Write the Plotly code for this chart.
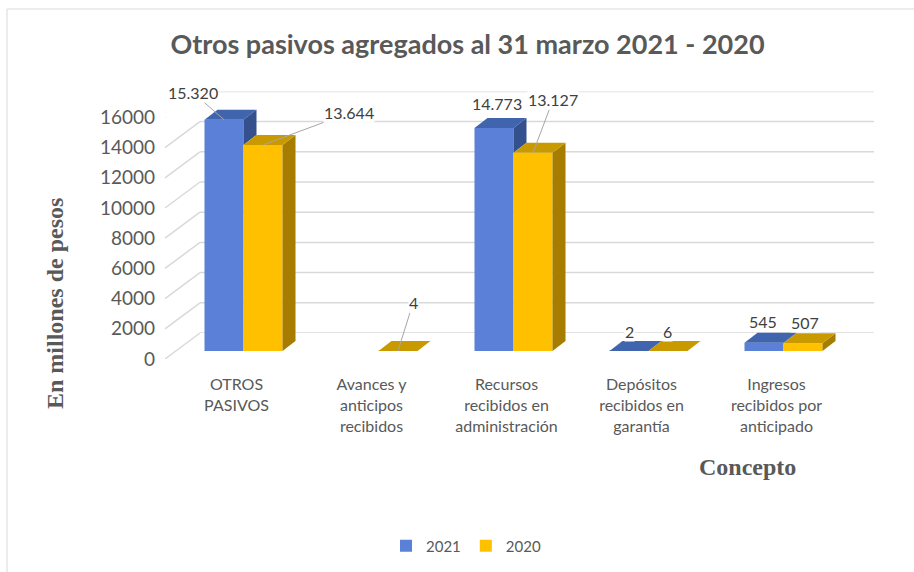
import plotly.graph_objects as go

# ---------------- data ----------------
categories = ["OTROS<br>PASIVOS",
              "Avances y<br>anticipos<br>recibidos",
              "Recursos<br>recibidos en<br>administración",
              "Depósitos<br>recibidos en<br>garantía",
              "Ingresos<br>recibidos por<br>anticipado"]
series_names = ["2021", "2020"]
values_2021 = [15320, None, 14773, 2, 545]
values_2020 = [13644, 4, 13127, 6, 507]
y_ticks = [0, 2000, 4000, 6000, 8000, 10000, 12000, 14000, 16000]
title_text = "Otros pasivos agregados al 31 marzo 2021 - 2020"
y_title = "En millones de pesos"
x_title = "Concepto"

# ---------------- styling / geometry ----------------
W, H = 914, 572
PL, PR, PT, PB = 176, 851, 85, 359          # plot area in px
PW, PH = PR - PL, PB - PT
K = 241.6 / 16000.0                           # px per unit
BAR_LIFT, WALL_LIFT = 8, 26                   # px lift of bar plane / back wall
FRONT_DX, WALL_DX, WALL_RIGHT = -11, 24, 874
DX_PX, DY_PX = 13, 10                         # bar depth extrusion
BW = 39 / 135.0                               # bar width (category units)
DXU = DX_PX / 135.0
DYU = DY_PX / K

FRONT = {"2021": "#5A80D7", "2020": "#FFC000"}
TOP = {"2021": "#4064AE", "2020": "#C99A00"}
SIDE = {"2021": "#34518E", "2020": "#A67D00"}
GRID = "#D9D9D9"
TXT = "#595959"
LBL = "#404040"
SANS = "Lato, 'Open Sans', sans-serif"
SERIF = "'Liberation Serif', 'DejaVu Serif', serif"

# label placement (px offsets from the bar top, leader line flag)
label_pos_2021 = [(-31, -27, True), None, (3, -24, False), (0, -19, False), (-1, -21, False)]
label_pos_2020 = [(86, -32, True), (15, -48, True), (20, -53, True), (-1, -19, False), (2, -21, False)]

xs = list(range(len(categories)))
fig = go.Figure()

# front faces (bars)
for name, vals in zip(series_names, [values_2021, values_2020]):
    fig.add_trace(go.Bar(x=xs, y=vals, name=name, xaxis="x", yaxis="y2",
                         marker=dict(color=FRONT[name], line=dict(width=0)),
                         hoverinfo="skip"))


def poly(px, py, color):
    fig.add_trace(go.Scatter(x=px + [px[0]], y=py + [py[0]], xaxis="x", yaxis="y2",
                             mode="lines", fill="toself", fillcolor=color,
                             line=dict(width=0, color=color), showlegend=False,
                             hoverinfo="skip"))


for i in xs:
    vb, vy = values_2021[i], values_2020[i]
    if vb is not None:
        xl, xr = i - BW, i
        poly([xl, xr, xr + DXU, xl + DXU], [vb, vb, vb + DYU, vb + DYU], TOP["2021"])
        low = vy if vy is not None else 0
        if vb > low:
            poly([xr, xr, xr + DXU, xr + DXU], [low, vb, vb + DYU, low + DYU], SIDE["2021"])
    if vy is not None:
        xl, xr = i, i + BW
        poly([xr, xr + DXU, xr + DXU, xr], [0, DYU, vy + DYU, vy], SIDE["2020"])
        poly([xl, xr, xr + DXU, xl + DXU], [vy, vy, vy + DYU, vy + DYU], TOP["2020"])

# gridlines: back wall + side wall diagonals
shapes = []
for t in y_ticks:
    shapes.append(dict(type="line", xref="paper", yref="y3", layer="below",
                       x0=WALL_DX / PW, x1=(WALL_RIGHT - PL) / PW, y0=t, y1=t,
                       line=dict(color=GRID, width=1.5)))
    shapes.append(dict(type="line", xref="paper", yref="y", layer="below",
                       x0=FRONT_DX / PW, x1=WALL_DX / PW, y0=t, y1=t + WALL_LIFT / K,
                       line=dict(color=GRID, width=1.5)))
# chart border
shapes.append(dict(type="rect", xref="paper", yref="paper", layer="below",
                   x0=(7 - PL) / PW, x1=(916 - PL) / PW,
                   y0=(PB - 575) / PH, y1=(PB - 9) / PH,
                   line=dict(color="#D9D9D9", width=1)))

annotations = []


def fmt(v):
    return f"{v:,}".replace(",", ".")


for name, vals, pos in [("2021", values_2021, label_pos_2021), ("2020", values_2020, label_pos_2020)]:
    for i, v in enumerate(vals):
        if v is None or pos[i] is None:
            continue
        cx = i - BW / 2 if name == "2021" else i + BW / 2
        ax, ay, leader = pos[i]
        a = dict(x=cx, y=v, xref="x", yref="y2", text=fmt(v),
                 font=dict(family=SANS, size=16, color=LBL),
                 bgcolor="white", borderpad=0)
        if leader:
            a.update(showarrow=True, ax=ax, ay=ay, arrowhead=0, arrowwidth=1,
                     arrowcolor="#A6A6A6", standoff=0, startstandoff=0)
        else:
            a.update(showarrow=False, xshift=ax, yshift=-ay)
        annotations.append(a)

annotations.append(dict(text="<b>" + y_title + "</b>", textangle=-90, xref="paper", yref="paper",
                        x=(55 - PL) / PW, y=(PB - 304) / PH, showarrow=False,
                        xanchor="center", yanchor="middle",
                        font=dict(family=SERIF, size=24, color=TXT)))
annotations.append(dict(text="<b>" + x_title + "</b>", xref="paper", yref="paper",
                        x=(747 - PL) / PW, y=(PB - 467) / PH, showarrow=False,
                        xanchor="center", yanchor="middle",
                        font=dict(family=SERIF, size=24, color=TXT)))

fig.update_layout(
    width=W, height=H,
    margin=dict(l=PL, r=W - PR, t=PT, b=H - PB, autoexpand=False),
    paper_bgcolor="white", plot_bgcolor="rgba(0,0,0,0)",
    barmode="group", bargap=1 - 2 * BW, bargroupgap=0,
    hovermode=False,
    title=dict(text="<b>" + title_text + "</b>", x=467.5 / W, xref="container",
               y=1 - 45 / H, yref="container", xanchor="center", yanchor="middle",
               font=dict(family=SANS, size=27, color=TXT)),
    xaxis=dict(range=[-0.5, 4.5], tickvals=xs, ticktext=categories, anchor="y",
               showgrid=False, zeroline=False, showline=False, ticks="",
               ticklabelshift=-7, ticklabelstandoff=14,
               tickfont=dict(family=SANS, size=16, color=TXT)),
    yaxis=dict(range=[0, 16000], domain=[0, 241.6 / PH], anchor="x",
               tickvals=y_ticks, ticktext=[str(t) for t in y_ticks],
               showgrid=False, zeroline=False, showline=False, ticks="",
               ticklabelstandoff=20,
               tickfont=dict(family=SANS, size=19, color=TXT)),
    yaxis2=dict(range=[0, 17000], domain=[BAR_LIFT / PH, (BAR_LIFT + 17000 * K) / PH],
                anchor="x", visible=False),
    yaxis3=dict(range=[0, 16000], domain=[WALL_LIFT / PH, (WALL_LIFT + 241.6) / PH],
                anchor="x", visible=False),
    shapes=shapes, annotations=annotations,
    legend=dict(orientation="h", xref="container", yref="container",
                x=466 / W, y=1 - 546 / H, xanchor="center", yanchor="middle",
                font=dict(family=SANS, size=15, color=TXT), itemwidth=30,
                traceorder="normal"),
)

fig.write_html("out.html", config={"displayModeBar": False},
               post_script="document.body.style.margin='0px';")
